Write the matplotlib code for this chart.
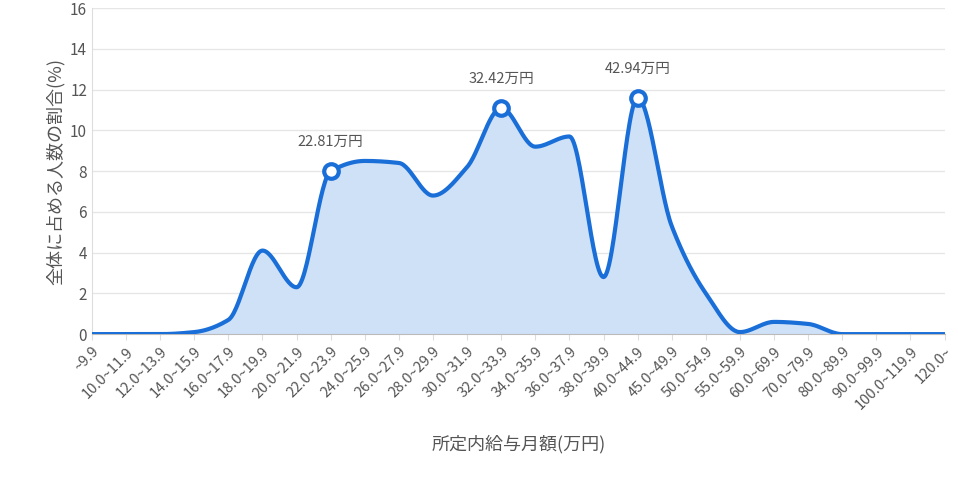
import numpy as np
import matplotlib
matplotlib.use("Agg")
import matplotlib.pyplot as plt

plt.rcParams['font.family'] = ['Noto Sans CJK JP', 'DejaVu Sans']

categories = ["~9.9","10.0~11.9","12.0~13.9","14.0~15.9","16.0~17.9","18.0~19.9","20.0~21.9",
              "22.0~23.9","24.0~25.9","26.0~27.9","28.0~29.9","30.0~31.9","32.0~33.9","34.0~35.9",
              "36.0~37.9","38.0~39.9","40.0~44.9","45.0~49.9","50.0~54.9","55.0~59.9","60.0~69.9",
              "70.0~79.9","80.0~89.9","90.0~99.9","100.0~119.9","120.0~"]
values = [0, 0, 0, 0.1, 0.7, 4.1, 2.3, 8.0, 8.5, 8.4, 6.8, 8.2, 11.1, 9.2, 9.7, 2.8, 11.6,
          5.3, 2.0, 0.1, 0.6, 0.5, 0, 0, 0, 0]
marked = [7, 12, 16]
marked_labels = ["22.81万円", "32.42万円", "42.94万円"]

def monotone(x, y, n=30):
    x = np.asarray(x, float); y = np.asarray(y, float)
    h = np.diff(x); d = np.diff(y) / h
    m = np.zeros_like(y)
    m[0], m[-1] = d[0], d[-1]
    for i in range(1, len(y) - 1):
        if d[i-1] * d[i] <= 0:
            m[i] = 0
        else:
            m[i] = 2 / (1/d[i-1] + 1/d[i])
    xs, ys = [], []
    for i in range(len(x) - 1):
        t = np.linspace(0, 1, n, endpoint=False)
        h00 = 2*t**3 - 3*t**2 + 1; h10 = t**3 - 2*t**2 + t
        h01 = -2*t**3 + 3*t**2; h11 = t**3 - t**2
        xs.append(x[i] + t*h[i])
        ys.append(h00*y[i] + h10*h[i]*m[i] + h01*y[i+1] + h11*h[i]*m[i+1])
    xs.append([x[-1]]); ys.append([y[-1]])
    return np.concatenate(xs), np.concatenate(ys)

x = np.arange(len(categories))
xs, ys = monotone(x, values)

fig = plt.figure(figsize=(9.58, 4.78), dpi=100)
ax = fig.add_axes([0.096, 0.301, 0.890, 0.682])
col = '#1a6ed8'
ax.fill_between(xs, ys, 0, color='#cfe1f6')
ax.plot(xs, ys, color=col, lw=3, solid_capstyle='round', zorder=3)
ax.scatter(x[marked], np.array(values)[marked], s=110, facecolor='white', edgecolor=col,
           linewidths=3, zorder=4)
for i, lab in zip(marked, marked_labels):
    ax.annotate(lab, (x[i], values[i]), xytext=(0, 18), textcoords='offset points',
                ha='center', fontsize=10.5, color='#555555')

ax.set_xlim(0, len(categories) - 1)
ax.set_ylim(0, 16)
ax.set_yticks(range(0, 17, 2))
ax.set_xticks(x)
ax.set_xticklabels(categories, rotation=45, ha='right', rotation_mode='anchor', fontsize=10.5, color='#555555')
ax.tick_params(axis='y', labelsize=11, colors='#555555', length=0)
ax.tick_params(axis='x', length=4, color='#dddddd')
ax.grid(True, axis='y', color='#e6e6e6', lw=1)
ax.set_axisbelow(True)
for s in ['top', 'right']:
    ax.spines[s].set_visible(False)
ax.spines['left'].set_color('#dddddd')
ax.spines['bottom'].set_color('#bbbbbb')
ax.set_ylabel('全体に占める人数の割合(%)', fontsize=13, color='#555555')
ax.set_xlabel('所定内給与月額(万円)', fontsize=13, color='#555555', labelpad=16)
fig.savefig('out.png', dpi=100)
